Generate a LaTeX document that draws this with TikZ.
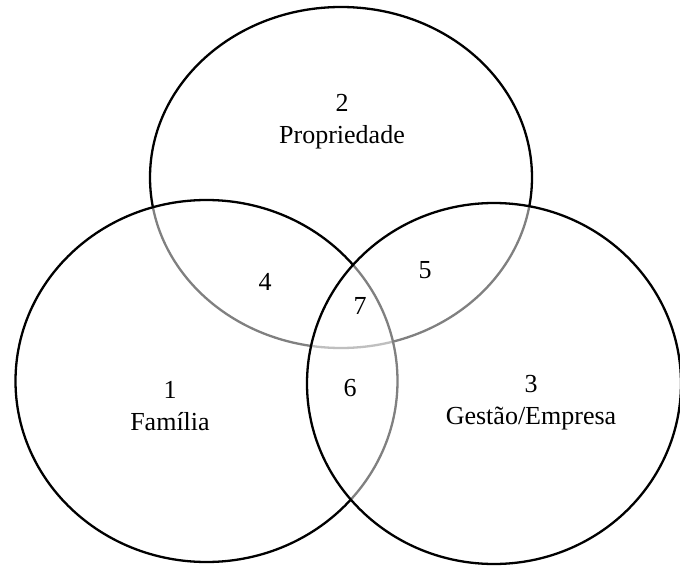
\documentclass[tikz,border=0pt]{standalone}
\usepackage{fontspec}
\setmainfont{Liberation Serif}
\usepackage{tikz}
\tikzset{venn/.style={draw=black, line width=2.3pt, fill=white, fill opacity=.5}}

\begin{document}
\begin{tikzpicture}[x=1pt, y=-1pt]
\useasboundingbox (0,0) rectangle (680,567);

\draw[venn] (341,177.5) ellipse [x radius=191, y radius=170.5];
\draw[venn] (206.5,381) ellipse [x radius=191, y radius=181];
\draw[venn] (494,383.5) ellipse [x radius=187, y radius=180.5];

\begin{scope}[every node/.style={font=\fontsize{26}{32}\selectfont, align=center, inner sep=0pt}]
\node (prop) at (342,122) {2\\Propriedade};
\node (fam) at (170,406) {1\\Família};
\node (gest) at (531,403) {3\\Gestão/Empresa};
\node (n4) at (265,282) {4};
\node (n5) at (425,270) {5};
\node (n6) at (350,388) {6};
\node (n7) at (360,306) {7};
\end{scope}
\end{tikzpicture}
\end{document}
